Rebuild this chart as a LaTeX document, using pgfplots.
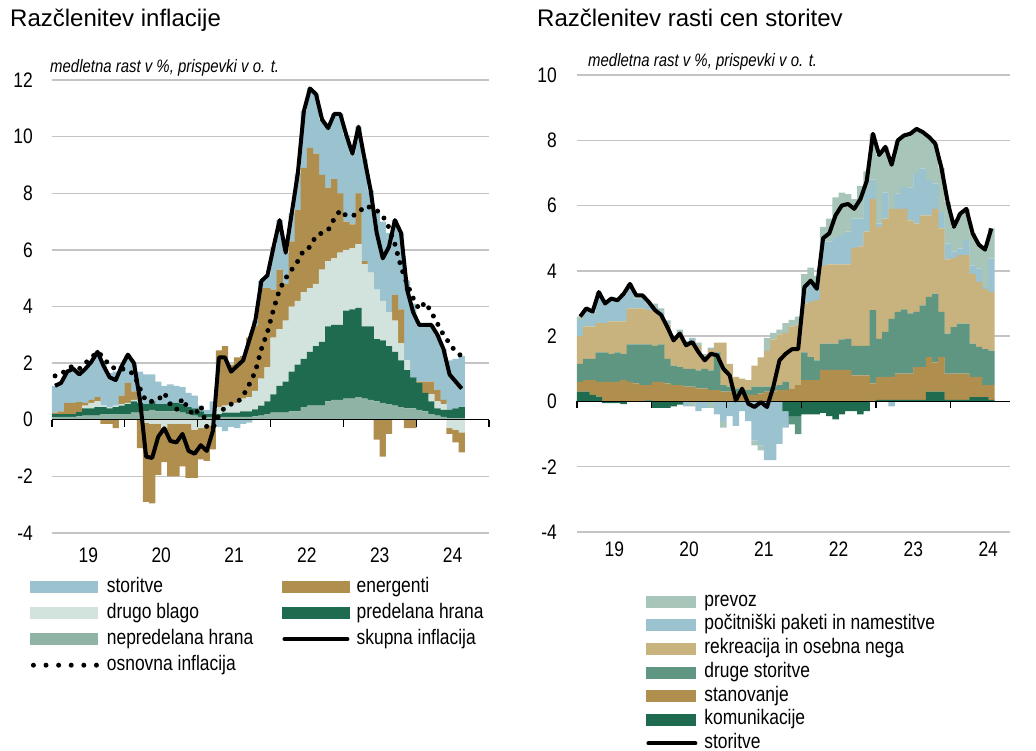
\documentclass[border=0pt]{standalone}
\usepackage{fontspec}
\setmainfont{Liberation Sans}
\newfontfamily\narrow{Liberation Sans}[FakeStretch=0.83]
\usepackage{pgfplots}
\usepackage{pgfplotstable}
\pgfplotsset{compat=1.18}

\definecolor{cSt}{HTML}{9BC2CF}
\definecolor{cDb}{HTML}{D2E3DD}
\definecolor{cNp}{HTML}{8FB4A5}
\definecolor{cEn}{HTML}{B08F4E}
\definecolor{cPr}{HTML}{1E6B4F}
\definecolor{cPrev}{HTML}{A8C5B9}
\definecolor{cRek}{HTML}{C8B27E}
\definecolor{cDru}{HTML}{5E9682}
\definecolor{cGrid}{HTML}{C4C4C4}

% Left panel: contributions to HICP inflation (monthly, Jan 2019 - Aug 2024)
\pgfplotstableread{
m np pr db en st H C
0 0.08 0.12 0 0.05 0.95 1.2 1.55
1 0.1 0.1 0 0.1 1.0 1.3 1.6
2 0.1 0.1 0 0.4 1.1 1.7 1.8
3 0.1 0.1 0 0.4 1.2 1.8 1.9
4 0.12 0.15 0 0.35 0.98 1.6 1.8
5 0.15 0.25 0.1 0.1 1.2 1.8 2.0
6 0.15 0.25 0.2 0.1 1.35 2.05 2.2
7 0.15 0.3 0.2 0.15 1.6 2.4 2.4
8 0.2 0.25 0.05 -0.15 1.55 1.9 2.2
9 0.2 0.2 0.05 -0.15 1.2 1.5 1.9
10 0.2 0.25 0.05 -0.3 1.2 1.4 1.8
11 0.2 0.3 0.05 0.3 1.05 1.9 1.8
12 0.2 0.35 0.05 0.7 1.0 2.3 1.75
13 0.25 0.4 0.05 0.3 1.0 2.0 1.6
14 0.25 0.35 0.05 -1.0 1.05 0.7 1.1
15 0.3 0.25 -0.1 -2.8 1.05 -1.3 0.65
16 0.35 0.3 -0.15 -2.8 0.95 -1.35 0.65
17 0.3 0.25 -0.15 -1.8 0.8 -0.6 0.7
18 0.3 0.25 -0.3 -1.2 0.65 -0.3 0.95
19 0.3 0.3 -0.15 -1.85 0.65 -0.75 0.55
20 0.3 0.3 -0.15 -1.85 0.6 -0.8 0.35
21 0.25 0.3 -0.15 -1.5 0.6 -0.5 0.75
22 0.2 0.25 -0.15 -1.9 0.5 -1.1 0.35
23 0.15 0.25 -0.35 -1.7 0.45 -1.2 0.15
24 0.1 0.2 -0.3 -1.1 0.2 -0.9 0.5
25 0.1 0.1 -0.2 -1.25 0.15 -1.1 -0.25
26 0.1 0.1 -0.2 -0.85 0.45 -0.4 -0.3
27 0.1 0.1 0.25 2.0 -0.25 2.2 0.15
28 0.1 0.15 0.25 2.1 -0.4 2.2 0.45
29 0.1 0.15 0.3 1.4 -0.25 1.7 0.55
30 0.1 0.15 0.35 1.6 -0.3 1.9 0.6
31 0.1 0.2 0.45 1.5 -0.15 2.1 0.85
32 0.1 0.2 0.5 2.1 -0.1 2.8 1.25
33 0.12 0.25 0.65 2.3 0.18 3.5 1.7
34 0.15 0.35 0.95 3.2 0.25 4.9 2.5
35 0.2 0.45 1.2 2.8 0.45 5.1 3.1
36 0.25 0.65 2.0 1.7 1.5 6.1 3.9
37 0.25 0.95 2.0 2.1 1.75 7.05 4.6
38 0.25 1.1 2.15 1.3 1.1 5.9 5.0
39 0.3 1.4 2.3 2.3 1.0 7.3 5.3
40 0.3 1.65 2.25 3.2 1.3 8.7 5.6
41 0.45 1.7 2.35 4.4 2.0 10.9 6.0
42 0.5 1.9 2.25 4.95 2.1 11.7 6.1
43 0.5 2.1 2.2 4.6 2.1 11.5 6.5
44 0.5 2.25 2.55 3.35 1.95 10.6 6.6
45 0.65 2.65 2.3 2.6 2.1 10.3 6.7
46 0.7 2.65 2.35 2.8 2.3 10.8 7.1
47 0.7 2.65 2.55 2.1 2.8 10.8 7.4
48 0.75 3.1 2.15 1.0 3.05 10.05 7.2
49 0.75 3.15 2.15 0.85 2.5 9.4 7.2
50 0.8 3.15 2.25 1.8 2.35 10.35 7.3
51 0.75 2.55 2.2 0.1 3.6 9.2 7.55
52 0.7 2.6 1.9 0 2.9 8.1 7.5
53 0.65 2.2 1.75 -0.7 2.7 6.6 7.4
54 0.6 2.2 1.4 -1.3 2.8 5.7 7.2
55 0.55 2.05 1.2 -0.5 2.8 6.1 6.8
56 0.5 1.9 1.1 0.9 2.65 7.05 6.2
57 0.45 1.65 0.6 1.2 2.7 6.6 5.4
58 0.4 1.35 0.35 -0.3 2.8 4.6 4.8
59 0.4 1.1 0 -0.3 2.6 3.8 4.3
60 0.35 0.95 0 0.05 2.0 3.35 3.9
61 0.3 0.65 0 0.4 2.0 3.35 4.15
62 0.2 0.45 0.25 0.45 2.0 3.35 3.8
63 0.15 0.25 0.25 0.4 1.95 3.0 3.4
64 0.1 0.25 0.2 0.15 1.8 2.5 3.0
65 0.05 0.3 -0.3 -0.2 1.75 1.6 2.7
66 0.05 0.35 -0.35 -0.45 1.75 1.35 2.4
67 0.05 0.4 -0.45 -0.7 1.8 1.1 2.25
}\dataL

% Right panel: contributions to services inflation (Jan 2019 - Jul 2024)
\pgfplotstableread{
m K S D R P V L
0 0.3 0.3 0.55 0.85 0.5 0.1 2.6
1 0.3 0.35 0.65 1.0 0.45 0.1 2.85
2 0.2 0.45 0.65 1.0 0.4 0.05 2.75
3 0.15 0.45 0.9 0.9 0.9 0.05 3.35
4 -0.05 0.6 0.9 0.9 0.55 0.05 3.0
5 -0.05 0.6 0.85 1.0 0.65 0.05 3.15
6 -0.05 0.6 0.9 0.95 0.6 0.05 3.1
7 -0.08 0.65 0.8 1.0 0.8 0.05 3.3
8 0 0.6 1.15 1.1 0.65 0.1 3.6
9 0 0.55 1.2 1.1 0.3 0.1 3.25
10 0 0.5 1.25 1.1 0.3 0.1 3.25
11 0.03 0.47 1.25 1.05 0.15 0.1 3.05
12 -0.2 0.6 1.1 1.1 0.1 0.1 2.8
13 -0.2 0.6 1.15 0.85 0.15 0.1 2.65
14 -0.2 0.55 0.75 1.05 0.05 0.08 2.28
15 -0.15 0.5 0.6 0.8 0.05 0.05 1.87
16 -0.1 0.5 0.55 1.0 0.05 0.1 2.08
17 0 0.45 0.55 0.8 -0.15 0.05 1.72
18 0 0.45 0.55 0.85 0.1 -0.15 1.82
19 0 0.4 0.55 0.75 -0.3 0.1 1.51
20 0 0.4 0.6 0.4 -0.2 0.05 1.26
21 0 0.35 0.6 0.65 0.05 -0.2 1.46
22 0 0.35 1.15 0.3 -0.4 0 1.41
23 0 0.3 0.2 1.3 -0.6 -0.2 1.0
24 0 0.3 0.15 0.7 -0.45 0 0.8
25 0 0.25 0.15 0.35 -0.75 0 0.03
26 0 0.2 0.15 0.35 -0.3 0 0.39
27 0 0.2 0.15 0.3 -0.6 0 -0.07
28 0 0.2 0.25 0.65 -1.2 -0.15 -0.17
29 0 0.25 0.2 0.9 -1.35 -0.15 -0.02
30 0 0.3 0.15 1.1 -1.8 0.4 -0.17
31 0 0.3 0.15 1.45 -1.8 0.2 0.44
32 0 0.35 0.15 1.55 -1.3 0.15 1.26
33 -0.3 0.35 0.25 1.5 -0.5 0.3 1.46
34 -0.45 0.4 -0.25 1.9 0 0.2 1.6
35 -0.45 0.5 -0.55 1.85 0 0.25 1.6
36 -0.4 0.65 0.85 1.5 0.35 0.55 3.5
37 -0.4 0.65 0.71 1.69 0.55 0.5 3.7
38 -0.4 0.65 0.61 1.84 0.5 0.25 3.45
39 -0.35 0.97 0.8 2.38 0.75 0.45 5.0
40 -0.45 0.97 0.8 2.43 0.7 0.7 5.15
41 -0.55 0.97 0.8 2.43 0.8 1.25 5.7
42 -0.4 0.97 0.93 2.3 0.9 1.3 6.0
43 -0.3 0.97 0.95 2.28 1.0 1.15 6.05
44 -0.3 0.8 0.9 3.0 0.9 0.6 5.9
45 -0.4 0.8 0.9 3.05 0.85 1.0 6.2
46 -0.3 0.8 0.9 3.5 1.3 0.55 6.75
47 0 0.55 2.25 3.4 0.6 1.4 8.2
48 0.05 0.7 1.17 3.43 0.1 2.1 7.55
49 0.05 0.7 1.38 3.47 0.8 1.4 7.8
50 0.05 0.7 1.78 3.37 -0.15 1.5 7.25
51 0.05 0.8 1.89 3.16 0.47 1.63 8.0
52 0.05 0.8 1.97 3.08 0.67 1.58 8.15
53 0.05 0.8 1.85 2.85 1.0 1.65 8.2
54 0.05 1.0 1.69 2.71 1.55 1.35 8.35
55 0.05 1.0 1.89 2.76 1.44 1.11 8.25
56 0.3 1.06 1.84 2.5 1.08 1.32 8.1
57 0.3 0.9 2.1 2.6 0.78 1.22 7.9
58 0.3 1.06 1.38 2.56 0.5 1.35 7.15
59 0.05 0.8 1.23 2.27 0.49 1.26 6.1
60 0.05 0.8 1.43 2.12 0.2 0.75 5.35
61 0.05 0.8 1.53 2.1 0.2 1.07 5.75
62 0.05 0.8 1.53 2.1 0.46 0.96 5.9
63 0.13 0.62 1.02 2.13 0.27 0.98 5.15
64 0.13 0.62 0.92 1.99 0.41 0.73 4.8
65 0.13 0.37 1.1 1.85 0.05 1.15 4.65
66 0.05 0.45 1.06 1.79 1.03 0.92 5.3
}\dataR

\pgfplotsset{
  base/.style={scale only axis, axis line style={draw=none}, major tick length=0pt, clip=false,
    tick label style={font=\narrow\fontsize{21}{24}\selectfont, text=black},
    yticklabel style={inner sep=0pt},
    xticklabel style={inner sep=0pt, anchor=north}},
  PL/.style={base, width=437pt, height=453pt, xmin=0, xmax=72, ymin=-4, ymax=12,
    at={(52pt,-533pt)}, anchor=south west},
  PR/.style={base, width=433pt, height=457pt, xmin=0, xmax=69.5, ymin=-4, ymax=10,
    at={(577pt,-532pt)}, anchor=south west},
  stk/.style={ybar stacked, bar width=1.04},
  sw/.style 2 args={legend image code/.code={\fill[#1] (0pt,-5.5pt) rectangle (#2,5.5pt);}},
  ln/.style={legend image code/.code={\draw[black, line width=4pt, line cap=round] (2pt,0pt) -- (#1,0pt);}},
  dt/.style={legend image code/.code={\draw[black, line width=5pt, line cap=round, dash pattern=on 0pt off 12.6pt] (3pt,0pt) -- (67pt,0pt);}},
  lgd/.style={legend cell align=left,
    legend style={draw=none, fill=none, inner sep=0pt,
      font=\narrow\fontsize{21}{24}\selectfont, text=black,
      nodes={inner sep=0pt, text height=16pt, text depth=5pt},
      /tikz/every odd column/.append style={column sep=7pt}}},
}

\begin{document}
\begin{tikzpicture}
\path[use as bounding box] (0pt,0pt) rectangle (1036pt,-751pt);

% ---------- titles ----------
\node[anchor=base west, inner sep=0pt, font=\fontsize{24}{28}\selectfont, text=black] at (10pt,-27pt) {Razčlenitev inflacije};
\node[anchor=base west, inner sep=0pt, font=\fontsize{24}{28}\selectfont, text=black] at (537pt,-27pt) {Razčlenitev rasti cen storitev};
\node[anchor=base west, inner sep=0pt, font=\narrow\itshape\fontsize{18}{22}\selectfont, text=black] at (50pt,-73pt) {medletna rast v \%, prispevki v o. t.};
\node[anchor=base west, inner sep=0pt, font=\narrow\itshape\fontsize{18}{22}\selectfont, text=black] at (588pt,-67pt) {medletna rast v \%, prispevki v o. t.};

% ================= LEFT PANEL =================
\begin{axis}[PL, stk,
  ytick={-4,-2,...,12}, yticklabels={-4,-2,0,2,4,6,8,10,12},
  xtick={6,18,...,66}, xticklabels={19,20,21,22,23,24},
  yticklabel style={xshift=-19pt}, xticklabel style={yshift=-15pt},
  ymajorgrids, grid style={cGrid, line width=1.3pt}]
\addplot[fill=cNp, draw=none] table[x expr=\coordindex+0.5, y expr={max(\thisrow{np},0)}]{\dataL};
\addplot[fill=cPr, draw=none] table[x expr=\coordindex+0.5, y expr={max(\thisrow{pr},0)}]{\dataL};
\addplot[fill=cDb, draw=none] table[x expr=\coordindex+0.5, y expr={max(\thisrow{db},0)}]{\dataL};
\addplot[fill=cEn, draw=none] table[x expr=\coordindex+0.5, y expr={max(\thisrow{en},0)}]{\dataL};
\addplot[fill=cSt, draw=none] table[x expr=\coordindex+0.5, y expr={max(\thisrow{st},0)}]{\dataL};
\end{axis}
\begin{axis}[PL, stk, hide axis]
\addplot[fill=cNp, draw=none] table[x expr=\coordindex+0.5, y expr={min(\thisrow{np},0)}]{\dataL};
\addplot[fill=cPr, draw=none] table[x expr=\coordindex+0.5, y expr={min(\thisrow{pr},0)}]{\dataL};
\addplot[fill=cDb, draw=none] table[x expr=\coordindex+0.5, y expr={min(\thisrow{db},0)}]{\dataL};
\addplot[fill=cEn, draw=none] table[x expr=\coordindex+0.5, y expr={min(\thisrow{en},0)}]{\dataL};
\addplot[fill=cSt, draw=none] table[x expr=\coordindex+0.5, y expr={min(\thisrow{st},0)}]{\dataL};
\end{axis}
\begin{axis}[PL, hide axis, lgd, legend columns=2,
  legend style={at={(rel axis cs:-0.0503,-0.096)}, anchor=north west, row sep=5pt,
    /tikz/every even column/.append style={column sep=29pt}}]
\draw[black, line width=1.3pt] (axis cs:0,0) -- (axis cs:72,0);
\pgfplotsinvokeforeach{0,12,24,36,48,60,72}{\draw[black, line width=1.3pt] (axis cs:#1,0) -- ++(0pt,-7pt);}
\addplot[black, line width=4pt, line join=round, forget plot] table[x expr=\coordindex+0.5, y=H]{\dataL};
\addplot[black, line width=5pt, line cap=round, dash pattern=on 0pt off 9.5pt, forget plot] table[x expr=\coordindex+0.5, y=C]{\dataL};
\addlegendimage{sw={cSt}{67pt}} \addlegendentry{storitve}
\addlegendimage{sw={cEn}{67pt}} \addlegendentry{energenti}
\addlegendimage{sw={cDb}{67pt}} \addlegendentry{drugo blago}
\addlegendimage{sw={cPr}{67pt}} \addlegendentry{predelana hrana}
\addlegendimage{sw={cNp}{67pt}} \addlegendentry{nepredelana hrana}
\addlegendimage{ln=65pt} \addlegendentry{skupna inflacija}
\addlegendimage{dt} \addlegendentry{osnovna inflacija}
\end{axis}

% ================= RIGHT PANEL =================
\begin{axis}[PR, stk,
  ytick={-4,-2,...,10}, yticklabels={-4,-2,0,2,4,6,8,10},
  xtick={6,18,...,66}, xticklabels={19,20,21,22,23,24},
  yticklabel style={xshift=-20pt}, xticklabel style={yshift=-10pt},
  ymajorgrids, grid style={cGrid, line width=1.3pt}]
\addplot[fill=cPr, draw=none] table[x expr=\coordindex+0.5, y expr={max(\thisrow{K},0)}]{\dataR};
\addplot[fill=cEn, draw=none] table[x expr=\coordindex+0.5, y expr={max(\thisrow{S},0)}]{\dataR};
\addplot[fill=cDru, draw=none] table[x expr=\coordindex+0.5, y expr={max(\thisrow{D},0)}]{\dataR};
\addplot[fill=cRek, draw=none] table[x expr=\coordindex+0.5, y expr={max(\thisrow{R},0)}]{\dataR};
\addplot[fill=cSt, draw=none] table[x expr=\coordindex+0.5, y expr={max(\thisrow{P},0)}]{\dataR};
\addplot[fill=cPrev, draw=none] table[x expr=\coordindex+0.5, y expr={max(\thisrow{V},0)}]{\dataR};
\end{axis}
\begin{axis}[PR, stk, hide axis]
\addplot[fill=cPr, draw=none] table[x expr=\coordindex+0.5, y expr={min(\thisrow{K},0)}]{\dataR};
\addplot[fill=cEn, draw=none] table[x expr=\coordindex+0.5, y expr={min(\thisrow{S},0)}]{\dataR};
\addplot[fill=cDru, draw=none] table[x expr=\coordindex+0.5, y expr={min(\thisrow{D},0)}]{\dataR};
\addplot[fill=cRek, draw=none] table[x expr=\coordindex+0.5, y expr={min(\thisrow{R},0)}]{\dataR};
\addplot[fill=cSt, draw=none] table[x expr=\coordindex+0.5, y expr={min(\thisrow{P},0)}]{\dataR};
\addplot[fill=cPrev, draw=none] table[x expr=\coordindex+0.5, y expr={min(\thisrow{V},0)}]{\dataR};
\end{axis}
\begin{axis}[PR, hide axis, lgd,
  legend style={at={(rel axis cs:0.1594,-0.1313)}, anchor=north west, row sep=5.7pt,
    nodes={inner sep=0pt, text height=14pt, text depth=4pt}}]
\draw[black, line width=1.3pt] (axis cs:0,0) -- (axis cs:69.5,0);
\pgfplotsinvokeforeach{0,12,24,36,48,60}{\draw[black, line width=1.3pt] (axis cs:#1,0) -- ++(0pt,-7pt);}
\addplot[black, line width=4pt, line join=round, forget plot] table[x expr=\coordindex+0.5, y=L]{\dataR};
\addlegendimage{sw={cPrev}{49pt}} \addlegendentry{prevoz}
\addlegendimage{sw={cSt}{49pt}} \addlegendentry{počitniški paketi in namestitve}
\addlegendimage{sw={cRek}{49pt}} \addlegendentry{rekreacija in osebna nega}
\addlegendimage{sw={cDru}{49pt}} \addlegendentry{druge storitve}
\addlegendimage{sw={cEn}{49pt}} \addlegendentry{stanovanje}
\addlegendimage{sw={cPr}{49pt}} \addlegendentry{komunikacije}
\addlegendimage{ln=49pt} \addlegendentry{storitve}
\end{axis}
\end{tikzpicture}
\end{document}
